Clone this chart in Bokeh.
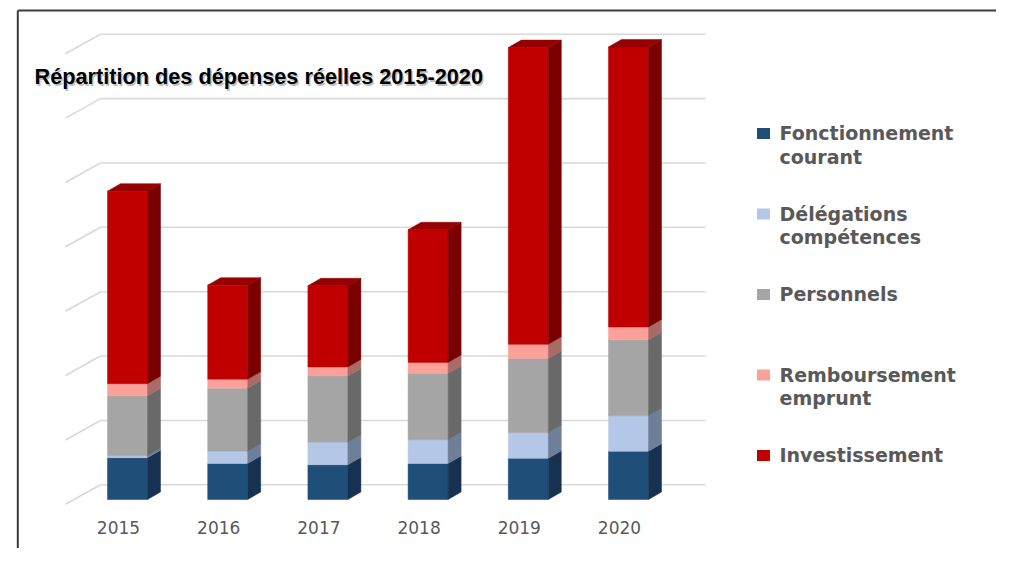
from bokeh.plotting import figure
from bokeh.models import Range1d, ColumnDataSource
from bokeh.embed import file_html
from bokeh.resources import INLINE
from bokeh.core.properties import value

# ---------------- data ----------------
years = ["2015", "2016", "2017", "2018", "2019", "2020"]
series = ["Fonctionnement\ncourant", "Délégations\ncompétences", "Personnels",
          "Remboursement\nemprunt", "Investissement"]
fonctionnement = [0.65, 0.56, 0.54, 0.56, 0.64, 0.75]
delegations = [0.03, 0.19, 0.35, 0.37, 0.40, 0.55]
personnels = [0.93, 0.98, 1.03, 1.03, 1.15, 1.18]
remboursement = [0.19, 0.14, 0.14, 0.17, 0.22, 0.20]
investissement = [2.99, 1.46, 1.26, 2.06, 4.61, 4.35]
grid_ticks = [0, 1, 2, 3, 4, 5, 6, 7]
title_text = "Répartition des dépenses réelles 2015-2020"

front_colors = ["#1F4E79", "#B4C7E7", "#A5A5A5", "#FCA19A", "#C00000"]
side_colors = ["#163250", "#6F7F99", "#696969", "#A86B66", "#7A0000"]
top_colors = ["#1A4066", "#93A3BE", "#878787", "#D08580", "#970000"]

values = [fonctionnement, delegations, personnels, remboursement, investissement]

# ---------------- layout (screen pixels -> data) ----------------
W, H, M = 996, 548, 0
X0, XS = 127.0, 100.2     # screen x of first bar centre, px per category
Y0, YS = 499.0, 64.37     # screen y of bar base, px per unit


def xd(px):
    return (px - X0) / XS


def yd(py):
    return (Y0 - py) / YS


BAR_HALF = 20.0 / XS
DDX, DDY = 13.0 / XS, 7.5 / YS
WALL_DY = 14.7 / YS
SIDE_DY = 19.5 / YS

p = figure(width=W, height=H,
           x_range=Range1d(xd(M), xd(M + W)),
           y_range=Range1d(yd(M + H), yd(M)),
           output_backend="svg", toolbar_location=None,
           x_axis_type=None, y_axis_type=None,
           min_border=0, min_border_left=0, min_border_right=0,
           min_border_top=0, min_border_bottom=0,
           outline_line_color=None,
           background_fill_color="white", border_fill_color="white")
for g in p.grid:
    g.visible = False

# back-wall gridlines and side-wall diagonals
gy = [k + WALL_DY for k in grid_ticks]
p.segment(x0=[xd(100)] * len(gy), y0=gy, x1=[xd(705)] * len(gy), y1=gy,
          line_color="#d9d9d9", line_width=1.6)
p.segment(x0=[xd(100)] * len(gy), y0=gy, x1=[xd(65)] * len(gy),
          y1=[v - SIDE_DY for v in gy], line_color="#d9d9d9", line_width=1.6)

# bars
fq = dict(left=[], right=[], bottom=[], top=[], color=[])
sp = dict(xs=[], ys=[], color=[])
tp = dict(xs=[], ys=[], color=[])
for i, yr in enumerate(years):
    l, r = i - BAR_HALF, i + BAR_HALF
    base = 0.0
    last = 0
    for s, vals in enumerate(values):
        t = base + vals[i]
        fq["left"].append(l); fq["right"].append(r)
        fq["bottom"].append(base); fq["top"].append(t)
        fq["color"].append(front_colors[s])
        sp["xs"].append([r, r + DDX, r + DDX, r])
        sp["ys"].append([base, base + DDY, t + DDY, t])
        sp["color"].append(side_colors[s])
        base = t
        last = s
    tp["xs"].append([l, l + DDX, r + DDX, r])
    tp["ys"].append([base, base + DDY, base + DDY, base])
    tp["color"].append(top_colors[last])

p.quad(source=ColumnDataSource(fq), left="left", right="right", bottom="bottom",
       top="top", fill_color="color", line_color="color", line_width=0.5)
p.patches(source=ColumnDataSource(sp), xs="xs", ys="ys", fill_color="color",
          line_color="color", line_width=0.5)
p.patches(source=ColumnDataSource(tp), xs="xs", ys="ys", fill_color="color",
          line_color="color", line_width=0.5)

# category labels
p.text(x=[i - 9.0 / XS for i in range(len(years))], y=[yd(527)] * len(years),
       text=years, text_align="center", text_baseline="middle",
       text_font=value("DejaVu Sans"), text_font_size="17px", text_color="#595959")

# title with soft shadow
p.text(x=[xd(35.5)], y=[yd(77.5)], text=[title_text], text_baseline="alphabetic",
       text_font=value("Liberation Sans"), text_font_style="bold",
       text_font_size="21.7px", text_color="#000000", text_alpha=0.25)
p.text(x=[xd(34)], y=[yd(76)], text=[title_text], text_baseline="alphabetic",
       text_font=value("Liberation Sans"), text_font_style="bold",
       text_font_size="21.7px", text_color="#000000")

# legend
step = 80.5
centers = [133 + step * j for j in range(len(series))]
p.rect(x=[xd(763)] * len(series), y=[yd(c) for c in centers],
       width=13.0 / XS, height=11.0 / YS, fill_color=front_colors, line_color=None)
lx, ly, lt = [], [], []
for j, name in enumerate(series):
    for k, line in enumerate(name.split("\n")):
        lx.append(xd(779))
        ly.append(yd(centers[j] - 0.5 + 23.5 * k))
        lt.append(line)
p.text(x=lx, y=ly, text=lt, text_baseline="alphabetic",
       text_font=value("DejaVu Sans"), text_font_style="bold",
       text_font_size="19px", text_color="#595959")

# chart frame (top and left edges visible)
p.segment(x0=[xd(17.3), xd(17.3)], y0=[yd(10), yd(10)],
          x1=[xd(M + W), xd(17.3)], y1=[yd(10), yd(M + H)],
          line_color="#3c3c3c", line_width=2)

open("out.html", "w").write(file_html(p, INLINE))
